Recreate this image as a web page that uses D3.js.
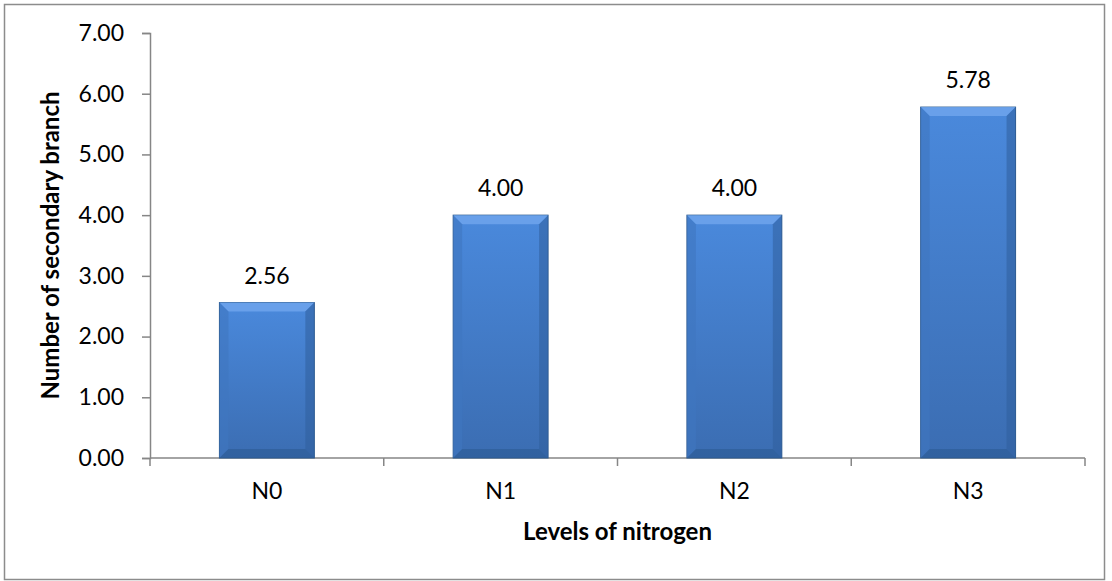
<!DOCTYPE html>
<html>
<head>
<meta charset="utf-8">
<script src="https://cdn.jsdelivr.net/npm/d3@7"></script>
<style>
  body { margin: 0; background: #fff; }
  svg text { font-family: Lato, "Open Sans", sans-serif; fill: #000; }
</style>
</head>
<body>
<svg id="chart" width="1112" height="581"></svg>
<script>
const categories = ["N0", "N1", "N2", "N3"];
const values = [2.56, 4.00, 4.00, 5.78];
const yTicks = [0, 1, 2, 3, 4, 5, 6, 7];

const svg = d3.select("#chart");
const margin = { top: 33, right: 27, bottom: 123, left: 150 };
const width = 1112 - margin.left - margin.right;
const height = 581 - margin.top - margin.bottom;

// outer frame
svg.append("rect")
    .attr("x", 4.5).attr("y", 4.5)
    .attr("width", 1100).attr("height", 575)
    .attr("fill", "none").attr("stroke", "#8c8c8c").attr("stroke-width", 1.5);

const defs = svg.append("defs");
const grad = defs.append("linearGradient").attr("id", "barGrad")
    .attr("x1", 0).attr("y1", 0).attr("x2", 0).attr("y2", 1);
grad.append("stop").attr("offset", "0%").attr("stop-color", "#4a89dc");
grad.append("stop").attr("offset", "100%").attr("stop-color", "#3b6db2");

const g = svg.append("g").attr("transform", `translate(${margin.left},${margin.top})`);

const x = d3.scaleBand().domain(categories).range([0, width]).paddingInner(0.594).paddingOuter(0.297);
const y = d3.scaleLinear().domain([0, 7]).range([height, 0]);

// y axis
const yAxis = g.append("g")
    .call(d3.axisLeft(y).tickValues(yTicks).tickFormat(d3.format(".2f")).tickSizeOuter(0).tickSize(8).tickPadding(18));
yAxis.select(".domain").attr("stroke", "#868686").attr("stroke-width", 1.5);
yAxis.selectAll(".tick line").attr("stroke", "#868686").attr("stroke-width", 1.5);
yAxis.selectAll("text").style("font-size", "23px").attr("fill", "#000");

// x axis with ticks at category boundaries
const xg = g.append("g").attr("transform", `translate(0,${height})`);
xg.append("line").attr("x1", 0).attr("x2", width).attr("y1", 0).attr("y2", 0)
    .attr("stroke", "#868686").attr("stroke-width", 1.5);
const step = x.step();
xg.selectAll(".xtick").data(d3.range(categories.length + 1)).enter().append("line")
    .attr("x1", i => i * step).attr("x2", i => i * step)
    .attr("y1", 0).attr("y2", 8)
    .attr("stroke", "#868686").attr("stroke-width", 1.5);
xg.selectAll(".xlab").data(categories).enter().append("text")
    .attr("x", d => x(d) + x.bandwidth() / 2)
    .attr("y", 41)
    .attr("text-anchor", "middle")
    .style("font-size", "23px")
    .text(d => d);

// bars
const bars = g.selectAll(".bar").data(values).enter().append("g");
bars.append("rect")
    .attr("x", (d, i) => x(categories[i]))
    .attr("y", d => y(d))
    .attr("width", x.bandwidth())
    .attr("height", d => height - y(d))
    .attr("fill", "url(#barGrad)")
    .attr("stroke", "#2d5a8e").attr("stroke-width", 1);
// bevel: top highlight and side shades
const bev = 9;
bars.append("polygon")
    .attr("points", (d, i) => {
        const x0 = x(categories[i]), x1 = x0 + x.bandwidth(), y0 = y(d);
        return `${x0},${y0} ${x1},${y0} ${x1 - bev},${y0 + bev} ${x0 + bev},${y0 + bev}`;
    })
    .attr("fill", "#6ea5ec").attr("opacity", 0.85);
bars.append("polygon")
    .attr("points", (d, i) => {
        const x0 = x(categories[i]), y0 = y(d);
        return `${x0},${y0} ${x0 + bev},${y0 + bev} ${x0 + bev},${height - bev} ${x0},${height}`;
    })
    .attr("fill", "#3f76c0").attr("opacity", 0.6);
bars.append("polygon")
    .attr("points", (d, i) => {
        const x1 = x(categories[i]) + x.bandwidth(), y0 = y(d);
        return `${x1},${y0} ${x1 - bev},${y0 + bev} ${x1 - bev},${height - bev} ${x1},${height}`;
    })
    .attr("fill", "#2f5f9c").attr("opacity", 0.55);
bars.append("polygon")
    .attr("points", (d, i) => {
        const x0 = x(categories[i]), x1 = x0 + x.bandwidth();
        return `${x0},${height} ${x0 + bev},${height - bev} ${x1 - bev},${height - bev} ${x1},${height}`;
    })
    .attr("fill", "#2c5a92").attr("opacity", 0.6);

// value labels
g.selectAll(".val").data(values).enter().append("text")
    .attr("x", (d, i) => x(categories[i]) + x.bandwidth() / 2)
    .attr("y", d => y(d) - 19)
    .attr("text-anchor", "middle")
    .style("font-size", "23px")
    .text(d => d3.format(".2f")(d));

// axis titles
svg.append("text")
    .attr("x", margin.left + width / 2).attr("y", 540)
    .attr("text-anchor", "middle")
    .style("font-size", "24px").style("font-weight", "bold")
    .text("Levels of nitrogen");
svg.append("text")
    .attr("transform", `translate(59,${margin.top + height / 2}) rotate(-90)`)
    .attr("text-anchor", "middle")
    .style("font-size", "24px").style("font-weight", "bold")
    .text("Number of secondary branch");
</script>
</body>
</html>
